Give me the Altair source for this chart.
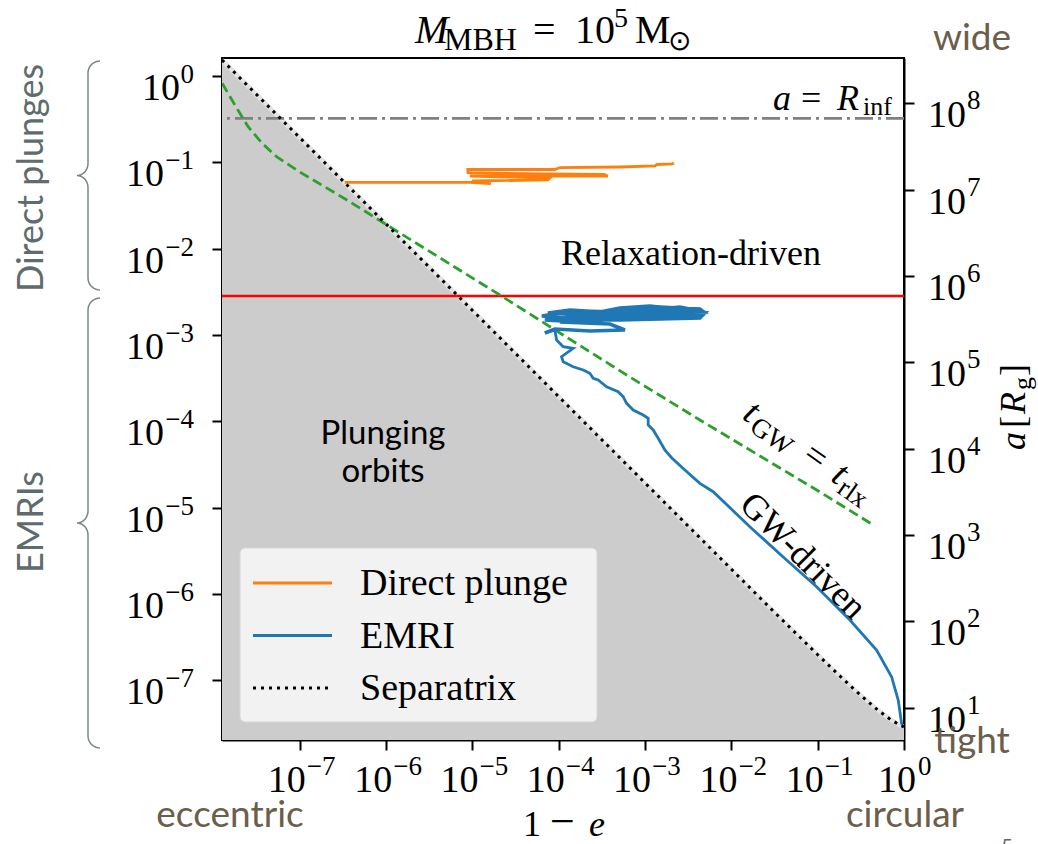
import numpy as np
import pandas as pd
import altair as alt

# ---------------------------------------------------------------------------
# Data: log10(1 - e) and log10(a / R_g) for a 1e5 Msun black hole
# ---------------------------------------------------------------------------
# plunge boundary (separatrix)
sep_lx = [-7.902, -7.0, -6.0, -5.0, -4.0, -3.0, -2.0, -1.5, -1.0, -0.699, -0.523, -0.301, -0.155, -0.046, 0.0]
sep_la = [8.504, 7.602, 6.602, 5.602, 4.602, 3.602, 2.603, 2.103, 1.613, 1.324, 1.162, 0.970, 0.861, 0.797, 0.778]

# t_GW = t_rlx curve
rlx_lx = [-7.900, -7.753, -7.599, -7.440, -7.270, -7.0, -6.455, -5.841, -5.262, -4.683,
          -3.987, -3.176, -2.365, -1.670, -0.974, -0.337]
rlx_la = [8.234, 7.983, 7.731, 7.542, 7.384, 7.206, 6.882, 6.499, 6.140, 5.781,
          5.341, 4.831, 4.333, 3.916, 3.499, 3.104]

# direct-plunge trajectory
dp_lx = [-6.479, -5.030, -4.787, -5.007, -4.126, -4.103, -5.030, -3.431, -3.477, -4.161,
         -5.053, -5.053, -4.045, -3.987, -3.292, -2.886, -2.863, -2.690, -2.666]
dp_la = [7.085, 7.085, 7.073, 7.102, 7.114, 7.137, 7.160, 7.160, 7.177, 7.183,
         7.200, 7.235, 7.235, 7.258, 7.264, 7.276, 7.293, 7.299, 7.311]

# EMRI: relaxation-dominated random walk just below the EMRI boundary
emri_loop_lx = [-3.524, -2.307, -2.365, -3.292, -3.813, -4.196, -3.987, -3.408, -2.829, -2.365,
                -2.319, -3.060, -3.640, -4.161, -3.756, -3.176, -2.597, -2.423, -2.944, -3.292,
                -3.524, -3.987, -3.640, -2.944, -2.481, -2.342, -2.829, -3.408, -4.126, -3.871,
                -3.292, -2.597, -2.365, -3.060, -3.524, -3.987, -3.408, -3.234, -3.640, -4.045,
                -4.161]
emri_loop_la = [5.538, 5.573, 5.515, 5.492, 5.503, 5.538, 5.573, 5.596, 5.642, 5.619,
                5.584, 5.573, 5.549, 5.492, 5.469, 5.515, 5.538, 5.596, 5.654, 5.630,
                5.584, 5.480, 5.515, 5.596, 5.573, 5.549, 5.549, 5.526, 5.573, 5.607,
                5.573, 5.642, 5.596, 5.619, 5.503, 5.469, 5.445, 5.376, 5.364, 5.387,
                5.341]
# EMRI: decay towards the separatrix
emri_track_lx = [-4.161, -4.045, -4.025, -3.949, -3.833, -3.968, -3.949, -3.833, -3.717, -3.640,
                 -3.601, -3.543, -3.446, -3.312, -3.254, -3.214, -3.138, -3.022, -2.964, -2.964,
                 -2.906, -2.848, -2.771, -2.690, -2.539, -2.365, -2.211, -1.786, -1.403, -1.013,
                 -0.627, -0.318, -0.144, -0.067, -0.028, -0.010]
emri_track_la = [5.341, 5.375, 5.260, 5.182, 5.163, 5.066, 5.008, 4.950, 4.912, 4.874,
                 4.816, 4.796, 4.718, 4.661, 4.603, 4.526, 4.448, 4.391, 4.352, 4.275,
                 4.217, 4.121, 3.985, 3.892, 3.753, 3.599, 3.502, 3.096, 2.749, 2.401,
                 2.015, 1.667, 1.358, 1.087, 0.818, 0.780]

R_INF_LA = 7.828       # a = R_inf
EMRI_EDGE_LA = 5.768   # upper edge of the EMRI band

SERIES = ["Direct plunge", "EMRI", "Separatrix"]
SERIES_COLORS = ["#ff7f0e", "#1f77b4", "black"]

X_TICKS = list(range(-7, 1))
A_TICKS = list(range(1, 9))
PC_TICKS = list(range(-7, 1))

# axis ranges (log10)
X_DOM = (-7.902, 0.0)
A_DOM = (0.625, 8.527)
PC_DOM = (-7.694, 0.209)

# ---------------------------------------------------------------------------
# Layout
# ---------------------------------------------------------------------------
W, H = 682, 682
LEFT, TOP = 222, 58
SERIF = "Liberation Serif"
SANS = "Lato"
BROWN = "#6b5e4b"
SLATE = "#5f6b6d"
BASE, EXP = 38, 27   # font sizes of "10" and of its exponent


def exp_text(k):
    return str(k).replace("-", "\u2212")


def path_frame(lx, la, series=None):
    df = pd.DataFrame({"x": np.power(10.0, lx), "a": np.power(10.0, la)})
    df["i"] = np.arange(len(df))
    if series is not None:
        df["series"] = series
    return df


def ticks_frame(exps, col):
    return pd.DataFrame({col: [10.0 ** k for k in exps], "k": exps,
                         "exp": [exp_text(k) for k in exps]})


x_axis = alt.Axis(values=[10.0 ** k for k in X_TICKS], labels=False, title=None, orient="bottom")
a_axis = alt.Axis(values=[10.0 ** k for k in A_TICKS], labels=False, title=None, orient="right")
pc_axis = alt.Axis(values=[10.0 ** k for k in PC_TICKS], labels=False, title=None, orient="left")

x_enc = alt.X("x:Q", axis=x_axis,
              scale=alt.Scale(type="log", domain=[10 ** X_DOM[0], 10 ** X_DOM[1]], nice=False))
y_enc = alt.Y("a:Q", axis=a_axis,
              scale=alt.Scale(type="log", domain=[10 ** A_DOM[0], 10 ** A_DOM[1]], nice=False))
pc_enc = alt.Y("pc:Q", axis=pc_axis,
               scale=alt.Scale(type="log", domain=[10 ** PC_DOM[0], 10 ** PC_DOM[1]], nice=False))

sep_df = path_frame(sep_lx, sep_la, "Separatrix")
sep_df["a0"] = 10 ** A_DOM[0]
rlx_df = path_frame(rlx_lx, rlx_la)
dp_df = path_frame(dp_lx, dp_la, "Direct plunge")
loop_df = path_frame(emri_loop_lx, emri_loop_la, "EMRI")
track_df = path_frame(emri_track_lx, emri_track_la, "EMRI")
levels_df = pd.DataFrame({"a": [10 ** R_INF_LA, 10 ** EMRI_EDGE_LA], "kind": ["rinf", "edge"]})

plunge_fill = alt.Chart(sep_df).mark_area(color="#cccccc", clip=True).encode(
    x=x_enc, y=y_enc, y2="a0:Q")
sep_halo = alt.Chart(sep_df).mark_line(color="#e4e4e4", strokeWidth=4.5, clip=True).encode(
    x=x_enc, y=y_enc)
rinf_line = alt.Chart(levels_df).transform_filter("datum.kind == 'rinf'").mark_rule(
    color="#808080", strokeWidth=2.8, strokeDash=[18, 5, 3, 5]).encode(y=y_enc)
edge_line = alt.Chart(levels_df).transform_filter("datum.kind == 'edge'").mark_rule(
    color="#ff0000", strokeWidth=2.5).encode(y=y_enc)
rlx_line = alt.Chart(rlx_df).mark_line(color="#2ca02c", strokeWidth=2.8, strokeDash=[10, 5],
                                       clip=True).encode(x=x_enc, y=y_enc)
dp_line = alt.Chart(dp_df).mark_line(color=SERIES_COLORS[0], strokeWidth=2.8, clip=True).encode(
    x=x_enc, y=y_enc, order="i:Q")
loop_line = alt.Chart(loop_df).mark_line(color=SERIES_COLORS[1], strokeWidth=3.6, clip=True).encode(
    x=x_enc, y=y_enc, order="i:Q")
track_line = alt.Chart(track_df).mark_line(color=SERIES_COLORS[1], strokeWidth=2.8, clip=True).encode(
    x=x_enc, y=y_enc, order="i:Q")
sep_line = alt.Chart(sep_df).mark_line(color="black", strokeWidth=3, strokeDash=[3, 5],
                                       clip=True).encode(x=x_enc, y=y_enc)

# tick labels written as 10 with a raised exponent
xt = ticks_frame(X_TICKS, "x")
at = ticks_frame(A_TICKS, "a")
pt = ticks_frame(PC_TICKS, "pc")


def xlabels(cond, base_dx, exp_dx):
    src = alt.Chart(xt).transform_filter(cond)
    base = src.mark_text(text="10", font=SERIF, fontSize=BASE, align="right", dx=base_dx).encode(
        x=x_enc, y=alt.value(H + 41))
    exp = src.mark_text(font=SERIF, fontSize=EXP, align="left", dx=exp_dx).encode(
        x=x_enc, y=alt.value(H + 27), text="exp:N")
    return [base, exp]


x_labels = xlabels("datum.k < 0", 6, 7) + xlabels("datum.k == 0", 12, 14)

a_labels = [
    alt.Chart(at).mark_text(text="10", font=SERIF, fontSize=BASE, align="left", dy=13).encode(
        x=alt.value(W + 24), y=y_enc),
    alt.Chart(at).mark_text(font=SERIF, fontSize=EXP, align="left", dy=-2).encode(
        x=alt.value(W + 63), y=y_enc, text="exp:N"),
]


def pclabels(cond, base_x):
    src = alt.Chart(pt).transform_filter(cond)
    return [
        src.mark_text(text="10", font=SERIF, fontSize=BASE, align="right", dy=13).encode(
            x=alt.value(base_x), y=pc_enc),
        src.mark_text(font=SERIF, fontSize=EXP, align="right", dy=-1).encode(
            x=alt.value(-28), y=pc_enc, text="exp:N"),
    ]


pc_labels = pclabels("datum.k < 0", -58) + pclabels("datum.k == 0", -42)

main = alt.layer(plunge_fill, sep_halo, rinf_line, edge_line, rlx_line,
                 dp_line, loop_line, track_line, sep_line, *x_labels, *a_labels)

# left axis: the same orbits expressed in parsec
pc_df = pd.DataFrame({"pc": [10 ** PC_DOM[0], 10 ** PC_DOM[1]]})
pc_layer = alt.Chart(pc_df).mark_point(opacity=0).encode(x=alt.value(0), y=pc_enc)
pc_group = alt.layer(pc_layer, *pc_labels)

_one = pd.DataFrame({"k": [0]})


def label(text, x, y, size=36, font=SERIF, color="black", style="normal", angle=0,
          align="left", baseline="alphabetic", dx=0, dy=0):
    return alt.Chart(_one).mark_text(
        text=text, font=font, fontSize=size, fontStyle=style, color=color, angle=angle,
        align=align, baseline=baseline, dx=dx, dy=dy).encode(
        x=alt.value(x - LEFT), y=alt.value(y - TOP))


def brace(top, bottom, x_stem=88, x_end=100, x_tip=77, r=12):
    """Curly brace drawn as a custom symbol path, opening to the right."""
    s = (bottom - top) / 2.0
    mid = (top + bottom) / 2.0
    pts = []
    for t in np.linspace(np.pi / 2, np.pi, 10):
        pts.append((x_end + (x_end - x_stem) * np.cos(t), top + r - r * np.sin(t)))
    for t in np.linspace(0, np.pi / 2, 10):
        pts.append((x_tip + (x_stem - x_tip) * np.cos(t), mid - r + r * np.sin(t)))
    for t in np.linspace(-np.pi / 2, 0, 10):
        pts.append((x_tip + (x_stem - x_tip) * np.cos(t), mid + r + r * np.sin(t)))
    for t in np.linspace(np.pi, 1.5 * np.pi, 10):
        pts.append((x_end + (x_end - x_stem) * np.cos(t), bottom - r - r * np.sin(t)))
    path = "M" + " L".join(f"{(px - x_stem) / s:.4f},{(py - mid) / s:.4f}" for px, py in pts)
    return alt.Chart(_one).mark_point(filled=False, opacity=1, strokeWidth=1.5,
                                      color="#7b8587").encode(
        x=alt.value(x_stem - LEFT), y=alt.value(mid - TOP),
        shape=alt.value(path), size=alt.value((2 * s) ** 2))


# legend panel
legend_marks = [
    alt.Chart(_one).mark_rect(fill="#f2f2f2", stroke="#d6d6d6", strokeWidth=1, cornerRadius=5).encode(
        x=alt.value(240 - LEFT), x2=alt.value(597 - LEFT),
        y=alt.value(548 - TOP), y2=alt.value(722 - TOP)),
]
for row, (name, col) in enumerate(zip(SERIES, SERIES_COLORS)):
    yrow = 583 + 52.5 * row
    dash = [3, 5] if name == "Separatrix" else [1, 0]
    legend_marks.append(
        alt.Chart(_one).mark_rule(color=col, strokeWidth=3 if name == "Separatrix" else 2.8,
                                  strokeDash=dash).encode(
            x=alt.value(253 - LEFT), x2=alt.value(332 - LEFT), y=alt.value(yrow - TOP)))
    legend_marks.append(label(name, 360, yrow + 12, size=38))

texts = [
    # title
    label("M", 415, 43, size=40, style="italic"),
    label("MBH", 444, 50, size=32),
    label("=", 533, 43, size=40),
    label("10", 575, 43, size=40),
    label("5", 614, 27, size=28),
    label("M", 635, 43, size=40),
    label("⊙", 668, 50, size=28),
    # a = R_inf
    label("a", 773, 110, size=36, style="italic"),
    label("=", 801, 110, size=36),
    label("R", 837, 110, size=36, style="italic"),
    label("inf", 863, 115, size=26),
    # region labels
    label("Relaxation-driven", 691, 265, size=36, align="center"),
    label("Plunging", 383, 444, size=33, font=SANS, align="center"),
    label("orbits", 383, 482, size=33, font=SANS, align="center"),
    label("GW-driven", 803, 556, size=36, align="center", baseline="middle", angle=45),
    # t_GW = t_rlx along the dashed curve
    label("t", 741, 418, size=37, style="italic", angle=35),
    label("GW", 741, 418, size=27, angle=35, dx=13, dy=6),
    label("=", 741, 418, size=37, angle=35, dx=73),
    label("t", 741, 418, size=37, style="italic", angle=35, dx=108),
    label("rlx", 741, 418, size=27, angle=35, dx=120, dy=6),
    # axis titles
    label("1", 523, 836, size=36),
    label("\u2212", 550, 836, size=44),
    label("e", 589, 836, size=36, style="italic"),
    label("a", 1025, 450, size=36, style="italic", angle=270),
    label("[", 1025, 450, size=36, angle=270, dx=22),
    label("R", 1025, 450, size=36, style="italic", angle=270, dx=36),
    label("g", 1025, 450, size=26, angle=270, dx=60, dy=6),
    label("]", 1025, 450, size=36, angle=270, dx=74),
    # orientation hints
    label("wide", 972, 50, size=37, font=SANS, color=BROWN, align="center"),
    label("tight", 972, 753, size=37, font=SANS, color=BROWN, align="center"),
    label("eccentric", 230, 827, size=37, font=SANS, color=BROWN, align="center"),
    label("circular", 905, 827, size=37, font=SANS, color=BROWN, align="center"),
    # population brackets
    label("Direct plunges", 43, 178, size=36, font=SANS, color=SLATE, align="center", angle=270),
    label("EMRIs", 43, 522, size=36, font=SANS, color=SLATE, align="center", angle=270),
    label("5", 1007, 853, size=20, font=SANS, color="#666666", align="center"),
]

chart = alt.layer(main, pc_group, *legend_marks, *texts,
                  brace(61, 290), brace(298, 748)).resolve_scale(
    y="independent"
).properties(
    width=W, height=H,
    padding={"left": LEFT, "top": TOP, "right": 1038 - LEFT - W, "bottom": 844 - TOP - H},
    autosize=alt.AutoSizeParams(type="none"),
    background="white",
).configure_view(
    stroke="black", strokeWidth=2
).configure_axis(
    domainColor="black", domainWidth=2, tickColor="black", tickWidth=2, tickSize=10,
    grid=False,
)

chart.save("out.html", embed_options={"renderer": "svg", "actions": False})
